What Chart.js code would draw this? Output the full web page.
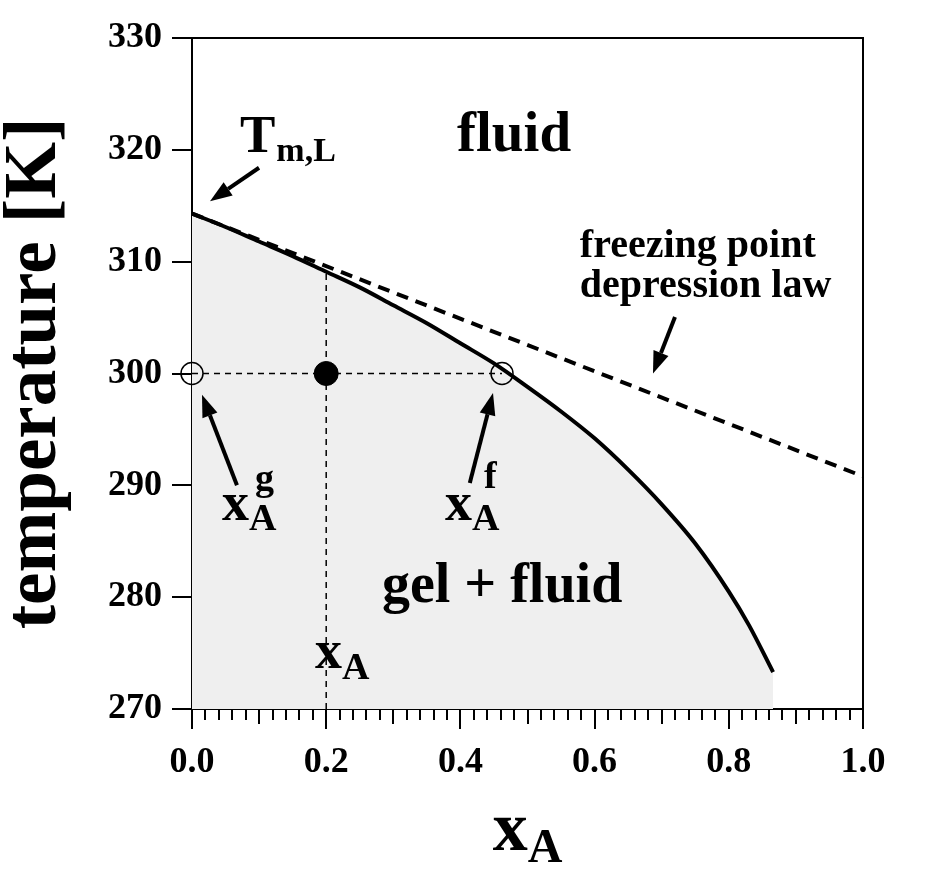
<!DOCTYPE html>
<html>
<head>
<meta charset="utf-8">
<title>Phase diagram</title>
<script src="https://cdn.jsdelivr.net/npm/chart.js"></script>
<style>
  html, body { margin: 0; padding: 0; background: #fff; }
  #wrap { width: 945px; height: 875px; }
</style>
</head>
<body>
<div id="wrap"><canvas id="phase" width="945" height="875"></canvas></div>
<script>
// liquidus (fluidus) curve
const liquidusX = [0, 0.05, 0.1, 0.15, 0.2, 0.25, 0.3, 0.35, 0.4, 0.45, 0.5, 0.55, 0.6, 0.65, 0.7, 0.75, 0.8, 0.83, 0.866];
const liquidusT = [314.3, 313.1, 311.8, 310.5, 309.1, 307.7, 306.1, 304.5, 302.7, 300.9, 298.8, 296.6, 294.2, 291.4, 288.3, 284.8, 280.5, 277.5, 273.3];

// freezing point depression law (straight line)
const fpdX = [0, 1.0];
const fpdT = [314.3, 290.8];

// tie line at 300 K and the overall composition line
const tieX = [0, 0.462];
const tieT = [300, 300];
const compX = [0.2, 0.2];
const compT = [270, 309.1];

// marker points
const openX = [0, 0.462];
const openT = [300, 300];
const filledX = [0.2];
const filledT = [300];

// axis ticks
const xTicks = [0, 0.2, 0.4, 0.6, 0.8, 1.0];
const yTicks = [270, 280, 290, 300, 310, 320, 330];

const FONT = '"Liberation Serif", "Times New Roman", serif';
const pts = (xs, ys) => xs.map((v, i) => ({ x: v, y: ys[i] }));

function txt(ctx, s, size, x, y) {
    ctx.font = `bold ${size}px ${FONT}`;
    ctx.textAlign = 'left';
    ctx.textBaseline = 'alphabetic';
    ctx.fillText(s, x, y);
    return x + ctx.measureText(s).width;
}

function arrow(ctx, [x1, y1], [x2, y2]) {
    const ang = Math.atan2(y2 - y1, x2 - x1);
    const hl = 22, hw = 8;
    const bx = x2 - hl * Math.cos(ang), by = y2 - hl * Math.sin(ang);
    ctx.lineWidth = 4;
    ctx.beginPath(); ctx.moveTo(x1, y1); ctx.lineTo(bx, by); ctx.stroke();
    ctx.beginPath();
    ctx.moveTo(x2, y2);
    ctx.lineTo(bx + hw * Math.sin(ang), by - hw * Math.cos(ang));
    ctx.lineTo(bx - hw * Math.sin(ang), by + hw * Math.cos(ang));
    ctx.closePath(); ctx.fill();
}

// frame, minor ticks, labels and arrows
const decor = {
    id: 'decor',
    afterDraw(chart) {
        const { ctx, chartArea: a, scales: { x, y } } = chart;
        const P = (xv, tv) => [x.getPixelForValue(xv), y.getPixelForValue(tv)];
        ctx.save();
        ctx.strokeStyle = '#000';
        ctx.fillStyle = '#000';
        ctx.lineWidth = 2;
        ctx.beginPath();
        ctx.moveTo(a.left, a.top); ctx.lineTo(a.right, a.top); ctx.lineTo(a.right, a.bottom);
        ctx.stroke();

        // minor x ticks every 0.02, medium at odd 0.1
        for (let i = 1; i < 50; i++) {
            if (i % 10 === 0) continue;
            const px = Math.round(x.getPixelForValue(i * 0.02));
            const len = i % 5 === 0 ? 15 : 11;
            ctx.beginPath(); ctx.moveTo(px, a.bottom); ctx.lineTo(px, a.bottom + len); ctx.stroke();
        }

        // region labels
        let p = P(0.395, 319.9); txt(ctx, 'fluid', 57, p[0], p[1]);
        p = P(0.283, 279.57); txt(ctx, 'gel + fluid', 56, p[0], p[1]);

        // T_m,L
        p = P(0.0715, 319.8);
        let e = txt(ctx, 'T', 53, p[0], p[1]);
        txt(ctx, 'm,L', 34, e + 1, p[1] + 9);

        // freezing point depression law
        p = P(0.578, 310.4);
        txt(ctx, 'freezing point', 40, p[0], p[1]);
        txt(ctx, 'depression law', 40, p[0], p[1] + 40);

        // x_A labels
        p = P(0.1833, 273.66);
        e = txt(ctx, 'x', 54, p[0], p[1]);
        txt(ctx, 'A', 38, e, p[1] + 11);

        p = P(0.0447, 286.9);
        e = txt(ctx, 'x', 54, p[0], p[1]);
        txt(ctx, 'A', 38, e, p[1] + 10);
        txt(ctx, 'g', 38, e + 6, p[1] - 30);

        p = P(0.377, 286.9);
        e = txt(ctx, 'x', 54, p[0], p[1]);
        txt(ctx, 'A', 38, e, p[1] + 10);
        txt(ctx, 'f', 38, e + 12, p[1] - 32);

        // arrows
        arrow(ctx, P(0.0999, 318.4), P(0.0268, 315.4));
        arrow(ctx, P(0.067, 290.0), P(0.0149, 298.1));
        arrow(ctx, P(0.414, 290.2), P(0.4486, 298.25));
        arrow(ctx, P(0.7198, 305.05), P(0.687, 300.0));

        // x axis title x_A
        ctx.font = `bold 70px ${FONT}`;
        const w1 = ctx.measureText('x').width;
        ctx.font = `bold 48px ${FONT}`;
        const w2 = ctx.measureText('A').width;
        const cx = (a.left + a.right) / 2 - (w1 + w2) / 2;
        e = txt(ctx, 'x', 70, cx, 850);
        txt(ctx, 'A', 48, e, 862);
        ctx.restore();
    }
};

new Chart(document.getElementById('phase'), {
    type: 'scatter',
    data: {
        datasets: [
            {
                data: pts(liquidusX, liquidusT),
                showLine: true,
                borderColor: '#000',
                borderWidth: 4,
                pointRadius: 0,
                cubicInterpolationMode: 'monotone',
                fill: 'start',
                backgroundColor: '#efefef'
            },
            {
                data: pts(fpdX, fpdT),
                showLine: true,
                borderColor: '#000',
                borderWidth: 4,
                borderDash: [12, 8],
                pointRadius: 0
            },
            {
                data: pts(tieX, tieT),
                showLine: true,
                borderColor: '#000',
                borderWidth: 1.5,
                borderDash: [6, 5],
                pointRadius: 0
            },
            {
                data: pts(compX, compT),
                showLine: true,
                borderColor: '#000',
                borderWidth: 1.5,
                borderDash: [6, 5],
                pointRadius: 0
            },
            {
                data: pts(openX, openT),
                pointRadius: 11,
                pointBorderWidth: 1.5,
                pointBorderColor: '#000',
                pointBackgroundColor: 'rgba(0,0,0,0)',
                clip: false
            },
            {
                data: pts(filledX, filledT),
                pointRadius: 12,
                pointBorderWidth: 1,
                pointBorderColor: '#000',
                pointBackgroundColor: '#000'
            }
        ]
    },
    options: {
        responsive: false,
        animation: false,
        layout: { padding: { top: 38, right: 82, left: 0, bottom: 0 } },
        plugins: {
            legend: { display: false },
            tooltip: { enabled: false },
            filler: { drawTime: 'beforeDatasetsDraw' }
        },
        scales: {
            x: {
                type: 'linear',
                min: 0, max: 1,
                afterBuildTicks: s => { s.ticks = xTicks.map(v => ({ value: v })); },
                afterFit: s => { s.height = 166; },
                ticks: {
                    color: '#000',
                    font: { family: FONT, size: 36, weight: 'bold' },
                    padding: 12,
                    callback: v => Number(v).toFixed(1)
                },
                grid: { drawOnChartArea: false, drawTicks: true, tickLength: 20, color: '#000', lineWidth: 2 },
                border: { display: true, color: '#000', width: 2 }
            },
            y: {
                type: 'linear',
                min: 270, max: 330,
                afterBuildTicks: s => { s.ticks = yTicks.map(v => ({ value: v })); },
                afterFit: s => { s.width = 192; },
                ticks: {
                    color: '#000',
                    font: { family: FONT, size: 36, weight: 'bold' },
                    padding: 10
                },
                grid: { drawOnChartArea: false, drawTicks: true, tickLength: 20, color: '#000', lineWidth: 2 },
                border: { display: true, color: '#000', width: 2 },
                title: {
                    display: true,
                    text: 'temperature [K]',
                    color: '#000',
                    font: { family: FONT, size: 73, weight: 'bold', lineHeight: 1 },
                    padding: 0
                }
            }
        }
    },
    plugins: [decor]
});
</script>
</body>
</html>
